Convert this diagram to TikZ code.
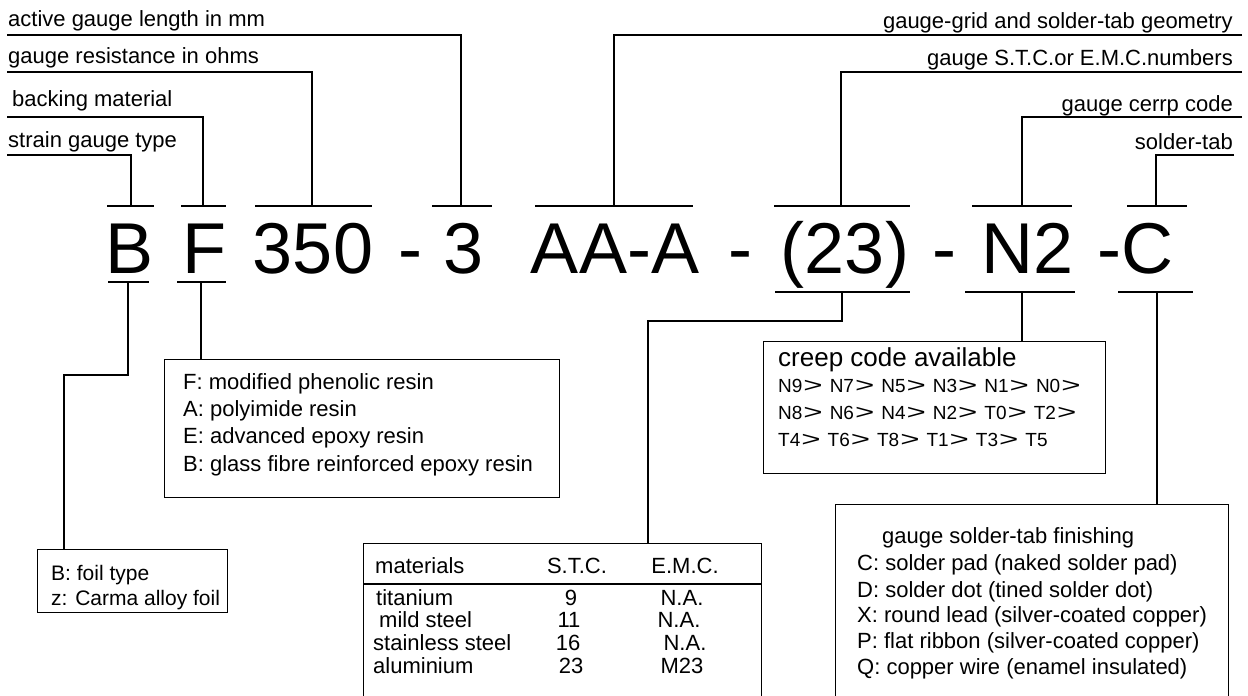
\documentclass[tikz,border=0pt]{standalone}
\usepackage{fontspec}
\usepackage{graphicx}
\setmainfont{Liberation Sans}
\newcommand\cgt{\hspace{1pt}\scalebox{1.5}[0.95]{\fontsize{22}{22}\selectfont >}\hspace{7pt}}
\tikzset{
  ln/.style={line width=1.6pt},
  lbl/.style={font=\fontsize{22}{26}\selectfont, inner sep=0pt, anchor=base west},
  rlbl/.style={font=\fontsize{22}{26}\selectfont, inner sep=0pt, anchor=base east},
  code/.style={font=\fontsize{72}{72}\selectfont, inner sep=0pt, anchor=base},
  boxx/.style={draw, line width=1.4pt, anchor=north west, inner sep=0pt},
  txt/.style={font=\fontsize{22}{26}\selectfont, inner sep=0pt, anchor=base west},
  ctxt/.style={font=\fontsize{22}{26}\selectfont, inner sep=0pt, anchor=base},
  ntxt/.style={font=\fontsize{19}{20}\selectfont, inner sep=0pt, anchor=base west}
}
\begin{document}
\begin{tikzpicture}[x=1pt,y=-1pt]
\clip (0,0) rectangle (1248,696);
\fill[white] (0,0) rectangle (1248,696);

% top labels
\node[lbl] (L1) at (8,27) {active gauge length in mm};
\node[lbl] (L2) at (8,63) {gauge resistance in ohms};
\node[lbl] (L3) at (12,106) {backing material};
\node[lbl] (L4) at (8,147) {strain gauge type};
\node[rlbl] (R1) at (1233,28) {gauge-grid and solder-tab geometry};
\node[rlbl] (R2) at (1233,65) {gauge S.T.C.or E.M.C.numbers};
\node[rlbl] (R3) at (1233,111) {gauge cerrp code};
\node[rlbl] (R4) at (1233,149) {solder-tab};

% code
\node[code] (cB) at (130,273) {B};
\node[code] (cF) at (204,273) {F};
\node[code] (c350) at (313,273) {350};
\node[code] (d1) at (410,273) {-};
\node[code] (c3) at (464,273) {3};
\node[code] (cAA) at (615,273) {AA-A};
\node[code] (d2) at (740,273) {-};
\node[code] (c23) at (845,273) {(23)};
\node[code] (d3) at (944,273) {-};
\node[code] (cN2) at (1028,273) {N2};
\node[code] (cC) at (1135,273) {-C};

% top ticks
\coordinate (tB) at (131,206);
\coordinate (tF) at (203,206);
\coordinate (t350) at (312,206);
\coordinate (t3) at (461,206);
\coordinate (tAA) at (614,206);
\coordinate (t23) at (841,206);
\coordinate (tN2) at (1022,206);
\coordinate (tC) at (1156,206);
\draw[ln] (107,206) -- (154,206);
\draw[ln] (181,206) -- (226,206);
\draw[ln] (255,206) -- (372,206);
\draw[ln] (432,206) -- (492,206);
\draw[ln] (535,206) -- (693,206);
\draw[ln] (774,206) -- (910,206);
\draw[ln] (972,206) -- (1072,206);
\draw[ln] (1127,206) -- (1187,206);

% label leaders
\coordinate (u1) at (7,35);
\coordinate (u2) at (7,72);
\coordinate (u3) at (7,117);
\coordinate (u4) at (7,155);
\coordinate (v1) at (1242,35);
\coordinate (v2) at (1242,72);
\coordinate (v3) at (1242,117);
\coordinate (v4) at (1234,155);
\draw[ln] (u1) -| (t3);
\draw[ln] (u2) -| (t350);
\draw[ln] (u3) -| (tF);
\draw[ln] (u4) -| (tB);
\draw[ln] (v1) -| (tAA);
\draw[ln] (v2) -| (t23);
\draw[ln] (v3) -| (tN2);
\draw[ln] (v4) -| (tC);

% bottom ticks
\coordinate (bB) at (128,282);
\coordinate (bF) at (201,282);
\coordinate (b23) at (842,292);
\coordinate (bN2) at (1022,292);
\coordinate (bC) at (1157,292);
\draw[ln] (108,282) -- (149,282);
\draw[ln] (177,282) -- (226,282);
\draw[ln] (775,292) -- (910,292);
\draw[ln] (965,292) -- (1075,292);
\draw[ln] (1118,292) -- (1193,292);

% boxes
\node[boxx, minimum width=395pt, minimum height=138pt] (fbox) at (164,359) {};
\node[boxx, minimum width=190pt, minimum height=63pt] (foil) at (37,549) {};
\node[boxx, minimum width=342pt, minimum height=132pt] (creep) at (763,341) {};
\node[boxx, minimum width=398pt, minimum height=200pt] (tab) at (363,543) {};
\node[boxx, minimum width=393pt, minimum height=240pt] (fin) at (835,504) {};

% connectors
\coordinate (fBtop) at (64,549);
\coordinate (fFtop) at (201,359);
\coordinate (tabtop) at (648,543);
\coordinate (creeptop) at (1022,341);
\coordinate (fintop) at (1157,504);
\draw[ln] (bB) -- (128,375) -- (64,375) -- (fBtop);
\draw[ln] (bF) -- (fFtop);
\draw[ln] (b23) -- (842,321) -- (648,321) -- (tabtop);
\draw[ln] (bN2) -- (creeptop);
\draw[ln] (bC) -- (fintop);

% backing box text
\node[txt] (f1) at (183,389) {F: modified phenolic resin};
\node[txt] (f2) at (183,416) {A: polyimide resin};
\node[txt] (f3) at (183,443) {E: advanced epoxy resin};
\node[txt] (f4) at (183,471) {B: glass fibre reinforced epoxy resin};

% foil text
\node[txt, font=\fontsize{21}{24}\selectfont] (g1) at (51,580) {B: foil type};
\node[txt, font=\fontsize{21}{24}\selectfont] (g2) at (51,605) {z: Carma alloy foil};

% creep text
\node[font=\fontsize{26}{30}\selectfont, inner sep=0pt, anchor=base west] (k0) at (778,366) {creep code available};
\node[ntxt] (k1) at (778,392) {N9\cgt N7\cgt N5\cgt N3\cgt N1\cgt N0\cgt};
\node[ntxt] (k2) at (778,419) {N8\cgt N6\cgt N4\cgt N2\cgt T0\cgt T2\cgt};
\node[ntxt] (k3) at (778,446) {T4\cgt T6\cgt T8\cgt T1\cgt T3\cgt T5};

% table
\draw[ln] (tab.west |- 0,584) -- (tab.east |- 0,584);
\node[txt] (h1) at (375,573) {materials};
\node[ctxt] (h2) at (577,573) {S.T.C.};
\node[ctxt] (h3) at (685,573) {E.M.C.};
\node[txt] (r1) at (376,605) {titanium};
\node[txt] (r2) at (379,627) {mild steel};
\node[txt] (r3) at (373,650) {stainless steel};
\node[txt] (r4) at (373,673) {aluminium};
\node[ctxt] (s1) at (571,605) {9};
\node[ctxt] (s2) at (569,627) {11};
\node[ctxt] (s3) at (568,650) {16};
\node[ctxt] (s4) at (571,673) {23};
\node[ctxt] (e1) at (682,605) {N.A.};
\node[ctxt] (e2) at (679,627) {N.A.};
\node[ctxt] (e3) at (685,650) {N.A.};
\node[ctxt] (e4) at (682,673) {M23};

% finishing text
\node[txt] (q0) at (882,543) {gauge solder-tab finishing};
\node[txt] (q1) at (857,570) {C: solder pad (naked solder pad)};
\node[txt] (q2) at (857,597) {D: solder dot (tined solder dot)};
\node[txt] (q3) at (857,622) {X: round lead (silver-coated copper)};
\node[txt] (q4) at (857,648) {P: flat ribbon (silver-coated copper)};
\node[txt] (q5) at (857,674) {Q: copper wire (enamel insulated)};
\end{tikzpicture}
\end{document}
